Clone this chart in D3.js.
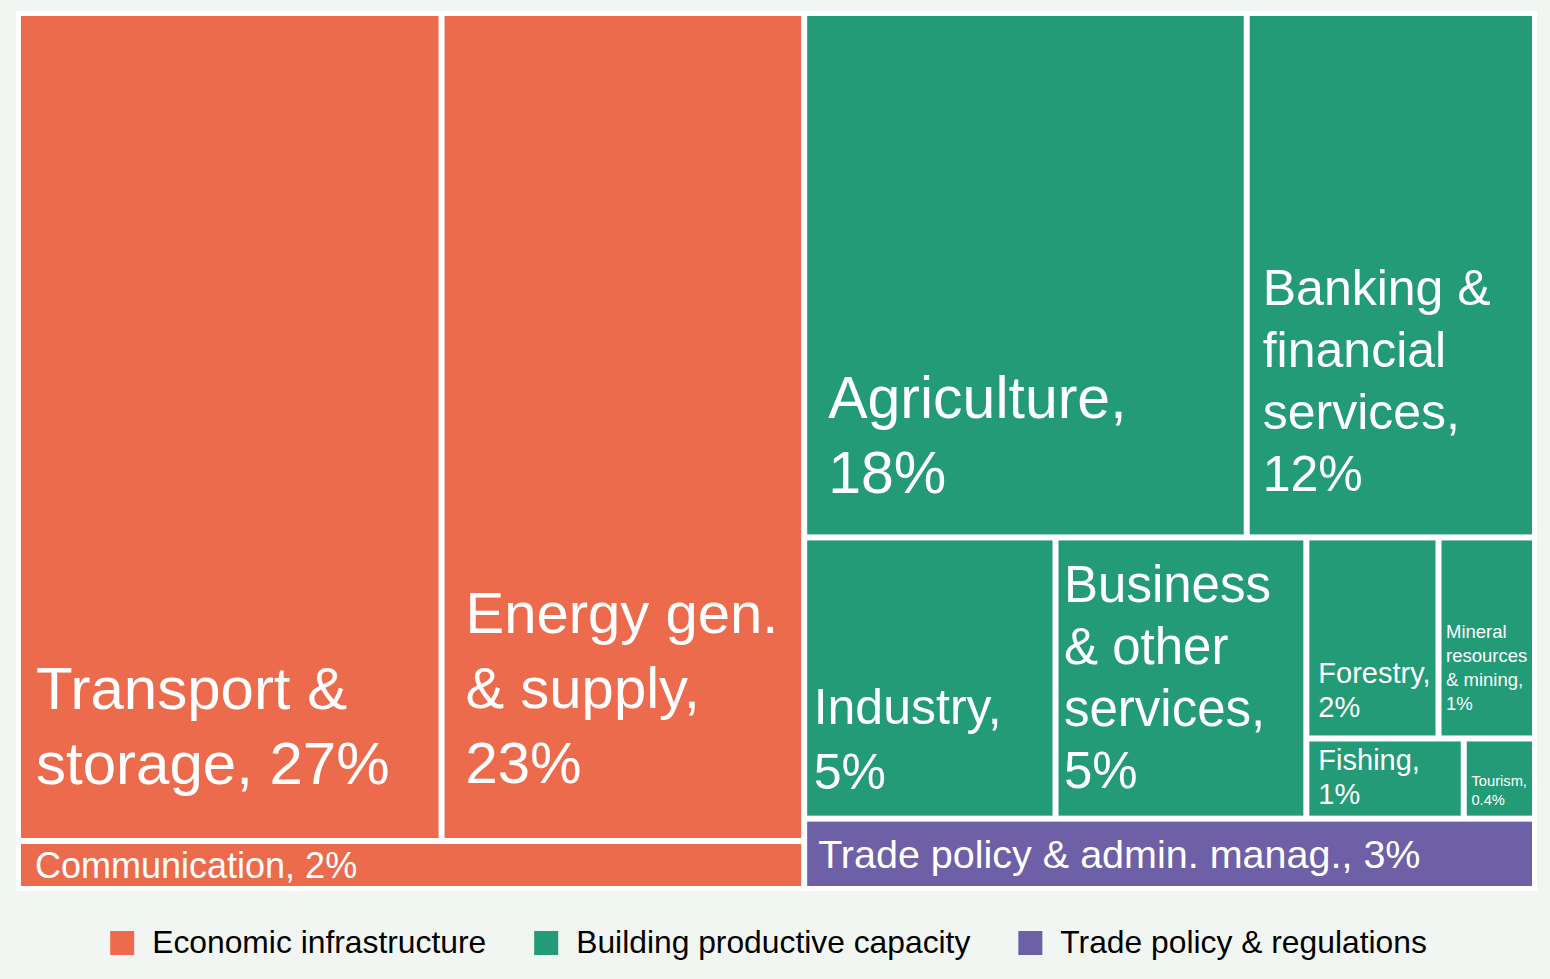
<!DOCTYPE html>
<html>
<head>
<meta charset="utf-8">
<script src="https://cdn.jsdelivr.net/npm/d3@7"></script>
<style>
body { margin: 0; background: #f2f6f2; }
svg { display: block; font-family: "Liberation Sans", Arial, sans-serif; }
</style>
</head>
<body>
<div id="chart"></div>
<script>
const groups = ['Economic infrastructure', 'Building productive capacity', 'Trade policy & regulations'];

const sectors = [
    'Transport & storage', 'Energy gen. & supply', 'Communication',
    'Agriculture', 'Banking & financial services', 'Industry', 'Business & other services',
    'Forestry', 'Mineral resources & mining', 'Fishing', 'Tourism',
    'Trade policy & admin. manag.'
];
const sectorGroup = [0, 0, 0, 1, 1, 1, 1, 1, 1, 1, 1, 2];

// shares (the printed labels are rounded)
const shares = [26.4, 22.6, 2.84, 17.47, 11.38, 5.32, 5.31, 2.0, 1.46, 0.95, 0.43, 3.87];
const pctLabels = ['27%', '23%', '2%', '18%', '12%', '5%', '5%', '2%', '1%', '1%', '0.4%', '3%'];

const W = 1550, H = 979;
const panel = {x: 16, y: 11, w: 1521, h: 880};

const color = d3.scaleOrdinal()
    .domain(groups)
    .range(['#ed6b4d', '#239b77', '#6e60a6']);

// font size, line step, left inset, last baseline above tile bottom
const labelStyle = {
    'Transport & storage': {size: 60, lead: 75, dx: 15, db: 54},
    'Energy gen. & supply': {size: 58, lead: 75, dx: 21, db: 55},
    'Communication': {size: 36, lead: 45, dx: 14, db: 8},
    'Agriculture': {size: 59, lead: 75, dx: 21, db: 41},
    'Banking & financial services': {size: 50, lead: 62, dx: 13, db: 43},
    'Industry': {size: 50, lead: 65, dx: 6.5, db: 27},
    'Business & other services': {size: 51, lead: 62, dx: 5.5, db: 28},
    'Forestry': {size: 29, lead: 34, dx: 9, db: 18},
    'Mineral resources & mining': {size: 18.5, lead: 24.3, dx: 4.5, db: 25},
    'Fishing': {size: 29, lead: 34, dx: 9, db: 12},
    'Tourism': {size: 14.7, lead: 18.7, dx: 4.7, db: 11},
    'Trade policy & admin. manag.': {size: 39.5, lead: 50, dx: 11, db: 18}
};

const svg = d3.select('#chart')
    .append('svg')
    .attr('width', W)
    .attr('height', H);

svg.append('rect')
    .attr('width', W)
    .attr('height', H)
    .attr('fill', '#f2f6f2');

svg.append('rect')
    .attr('x', panel.x)
    .attr('y', panel.y)
    .attr('width', panel.w)
    .attr('height', panel.h)
    .attr('fill', '#fff');

// Treemap

const tree = {
    name: 'root',
    children: groups.map((g, gi) => ({
        name: g,
        children: sectors
            .map((s, i) => ({name: s, group: sectorGroup[i], value: shares[i], pct: pctLabels[i]}))
            .filter(d => d.group === gi)
    }))
};

const root = d3.hierarchy(tree)
    .sum(d => d.value || 0)
    .sort((a, b) => b.value - a.value);

d3.treemap()
    .size([panel.w, panel.h])
    .tile(d3.treemapSquarify)
    .paddingInner(6)
    .paddingOuter(d => d.depth === 0 ? 5 : 0)(root);

const chart = svg.append('g')
    .attr('transform', `translate(${panel.x}, ${panel.y})`);

const tile = chart.selectAll('g.tile')
    .data(root.leaves())
    .join('g')
    .attr('class', 'tile');

tile.append('rect')
    .attr('x', d => d.x0)
    .attr('y', d => d.y0)
    .attr('width', d => d.x1 - d.x0)
    .attr('height', d => d.y1 - d.y0)
    .attr('fill', d => color(groups[d.data.group]));

// Labels, wrapped word by word to the tile width

tile.each(function (d) {
    const st = labelStyle[d.data.name];
    const text = d3.select(this).append('text')
        .attr('fill', '#fff')
        .style('font-size', st.size + 'px');

    const words = `${d.data.name}, ${d.data.pct}`.split(' ');
    const maxW = d.x1 - d.x0 - st.dx - 4;
    const probe = text.append('tspan');
    const lines = [];
    let line = [];
    words.forEach(w => {
        probe.text(line.concat(w).join(' '));
        if (line.length && probe.node().getComputedTextLength() > maxW) {
            lines.push(line.join(' '));
            line = [w];
        } else {
            line.push(w);
        }
    });
    lines.push(line.join(' '));
    probe.remove();

    const yLast = d.y1 - st.db;
    text.selectAll('tspan')
        .data(lines)
        .join('tspan')
        .attr('x', d.x0 + st.dx)
        .attr('y', (l, i) => yLast - (lines.length - 1 - i) * st.lead)
        .text(l => l);
});

// Legend

const legend = svg.append('g');
const key = 24, keyGap = 18, itemGap = 48, legendCenter = 768.5;

const items = legend.selectAll('g')
    .data(groups)
    .join('g');

items.append('rect')
    .attr('width', key)
    .attr('height', key)
    .attr('y', 931)
    .attr('fill', g => color(g));

items.append('text')
    .attr('x', key + keyGap)
    .attr('y', 953)
    .style('font-size', '31.8px')
    .attr('fill', '#000')
    .text(g => g);

const widths = [];
items.each(function () {
    widths.push(d3.select(this).select('text').node().getComputedTextLength());
});
const total = d3.sum(widths) + groups.length * (key + keyGap) + (groups.length - 1) * itemGap;
let offset = legendCenter - total / 2;
items.attr('transform', (g, i) => {
    const x = offset;
    offset += key + keyGap + widths[i] + itemGap;
    return `translate(${x}, 0)`;
});
</script>
</body>
</html>
